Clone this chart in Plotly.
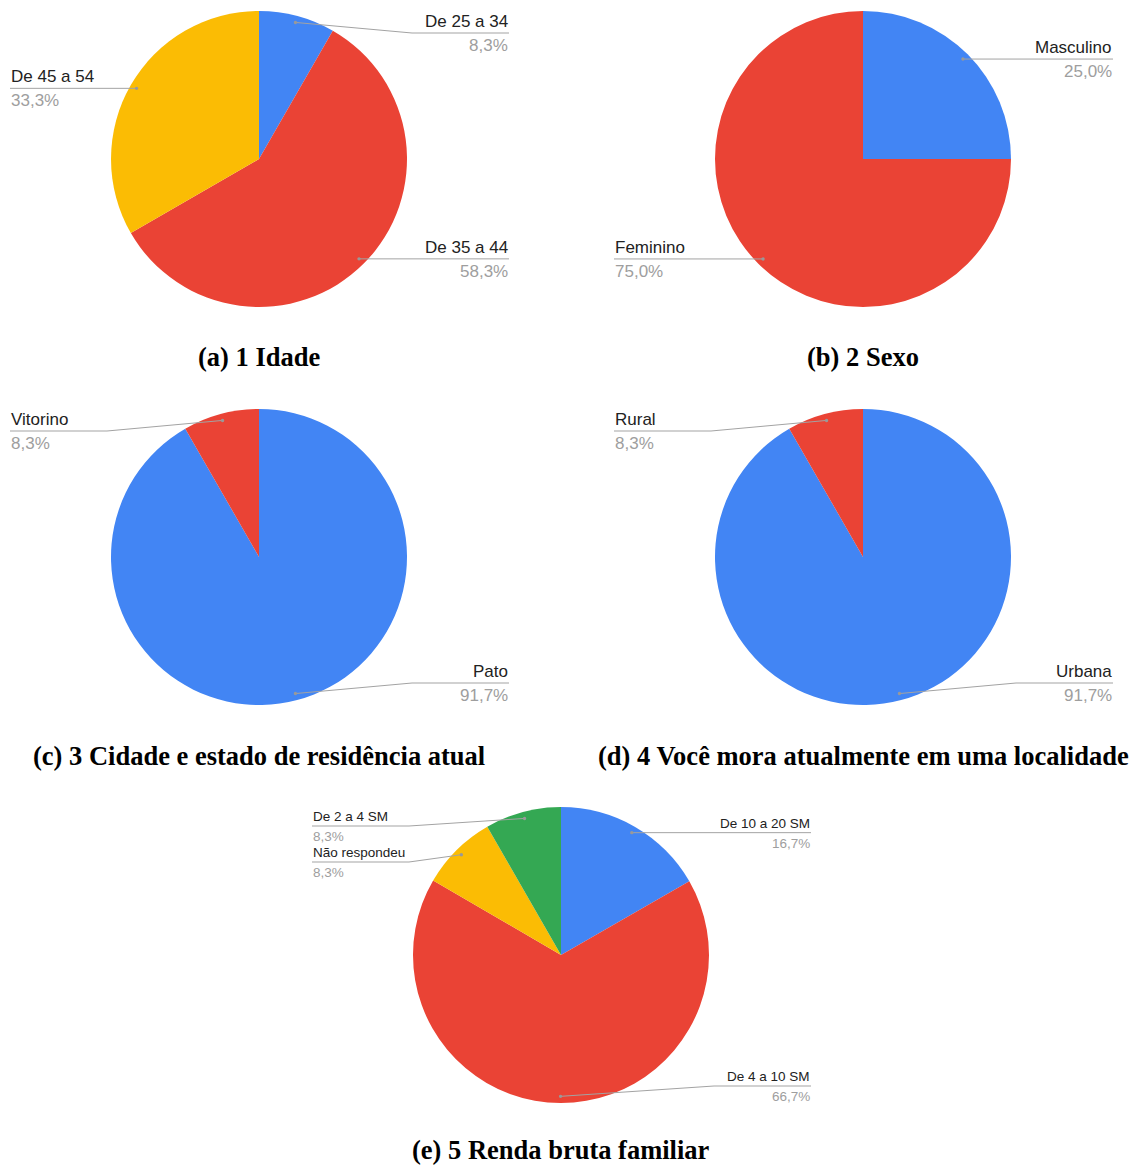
import math
import plotly.graph_objects as go

# ---------------- data ----------------
idade_labels = ["De 25 a 34", "De 35 a 44", "De 45 a 54"]
idade_pct = [8.3, 58.3, 33.3]

sexo_labels = ["Masculino", "Feminino"]
sexo_pct = [25.0, 75.0]

cidade_labels = ["Pato", "Vitorino"]
cidade_pct = [91.7, 8.3]

local_labels = ["Urbana", "Rural"]
local_pct = [91.7, 8.3]

renda_labels = ["De 10 a 20 SM", "De 4 a 10 SM", "Não respondeu", "De 2 a 4 SM"]
renda_pct = [16.7, 66.7, 8.3, 8.3]

captions = [
    "(a) 1 Idade",
    "(b) 2 Sexo",
    "(c) 3 Cidade e estado de residência atual",
    "(d) 4 Você mora atualmente em uma localidade",
    "(e) 5 Renda bruta familiar",
]

# ---------------- style / layout ----------------
W, H = 1137, 1165
BLUE, RED, YELLOW, GREEN = "#4285F4", "#EA4335", "#FBBC04", "#34A853"
LINE_GRAY = "#a3a3a3"
PCT_GRAY = "#9e9e9e"
LABEL_COL = "#222222"
R = 148

charts = [
    dict(labels=idade_labels, vals=idade_pct, colors=[BLUE, RED, YELLOW], c=(259, 159), fs=17, small=False),
    dict(labels=sexo_labels, vals=sexo_pct, colors=[BLUE, RED], c=(863, 159), fs=17, small=False),
    dict(labels=cidade_labels, vals=cidade_pct, colors=[BLUE, RED], c=(259, 557), fs=17, small=False),
    dict(labels=local_labels, vals=local_pct, colors=[BLUE, RED], c=(863, 557), fs=17, small=False),
    dict(labels=renda_labels, vals=renda_pct, colors=[BLUE, RED, YELLOW, GREEN], c=(561, 955), fs=13.5, small=True),
]
caption_y = [357, 357, 756, 756, 1150]


def px(x):
    return x / W


def py(y):
    return 1 - y / H


def fmt(v):
    return f"{v:.1f}".replace(".", ",") + "%"


fig = go.Figure()
shapes = []
annotations = []

for i, ch in enumerate(charts):
    cx, cy = ch["c"]
    fig.add_trace(go.Pie(
        labels=ch["labels"], values=ch["vals"], sort=False, direction="clockwise",
        rotation=0, marker=dict(colors=ch["colors"], line=dict(width=0)),
        textinfo="none", hoverinfo="label+percent", showlegend=False,
        domain=dict(x=[px(cx - R), px(cx + R)], y=[py(cy + R), py(cy - R)]),
    ))

    total = sum(ch["vals"])
    cum = 0.0
    items = []
    for lab, v in zip(ch["labels"], ch["vals"]):
        mid = (cum + v / 2) / total * 360.0
        cum += v
        a = math.radians(mid)
        dx = cx + 0.955 * R * math.sin(a)
        dy = cy - 0.955 * R * math.cos(a)
        # slices pointing (almost) straight down keep their label on the right
        side = "right" if mid <= 182.0 else "left"
        items.append(dict(lab=lab, v=v, dx=dx, dy=dy, side=side))

    pad_top = 19 if ch["small"] else 22
    pad_bot = 17 if ch["small"] else 22
    spacing = 36 if ch["small"] else 48
    top_lim = cy - R + pad_top
    bot_lim = cy + R - pad_bot

    for side in ("left", "right"):
        grp = sorted([it for it in items if it["side"] == side], key=lambda t: t["dy"])
        prev = None
        for it in grp:
            ly = it["dy"]
            if prev is not None:
                ly = max(ly, prev + spacing)
            ly = min(max(ly, top_lim), bot_lim)
            it["ly"] = ly
            prev = ly

    for it in items:
        if it["side"] == "right":
            edge = cx + 250
            bend = cx + 153
            xanchor = "right"
        else:
            edge = cx - 249
            bend = cx - 152
            xanchor = "left"
        ly = it["ly"]
        path = (f"M {px(edge)},{py(ly)} L {px(bend)},{py(ly)} "
                f"L {px(it['dx'])},{py(it['dy'])}")
        shapes.append(dict(type="path", xref="paper", yref="paper", path=path,
                           line=dict(color=LINE_GRAY, width=1)))
        rr = 1.7
        shapes.append(dict(type="circle", xref="paper", yref="paper",
                           x0=px(it["dx"] - rr), x1=px(it["dx"] + rr),
                           y0=py(it["dy"] + rr), y1=py(it["dy"] - rr),
                           fillcolor="#999999", line=dict(width=0)))
        fs = ch["fs"]
        annotations.append(dict(
            x=px(edge), y=py(ly - 1), xref="paper", yref="paper",
            xanchor=xanchor, yanchor="bottom", showarrow=False, borderpad=0,
            text=it["lab"], font=dict(family="Liberation Sans, Arial", size=fs, color=LABEL_COL)))
        annotations.append(dict(
            x=px(edge), y=py(ly + 2), xref="paper", yref="paper",
            xanchor=xanchor, yanchor="top", showarrow=False, borderpad=0,
            text=fmt(it["v"]), font=dict(family="Liberation Sans, Arial", size=fs, color=PCT_GRAY)))

    annotations.append(dict(
        x=px(cx), y=py(caption_y[i]), xref="paper", yref="paper",
        xanchor="center", yanchor="middle", showarrow=False, borderpad=0,
        text=f"<b>{captions[i]}</b>",
        font=dict(family="Liberation Serif, Times New Roman", size=26.5, color="#000000")))

fig.update_layout(
    width=W, height=H, margin=dict(l=0, r=0, t=0, b=0),
    paper_bgcolor="white", plot_bgcolor="white",
    shapes=shapes, annotations=annotations,
)

fig.write_html("out.html")
